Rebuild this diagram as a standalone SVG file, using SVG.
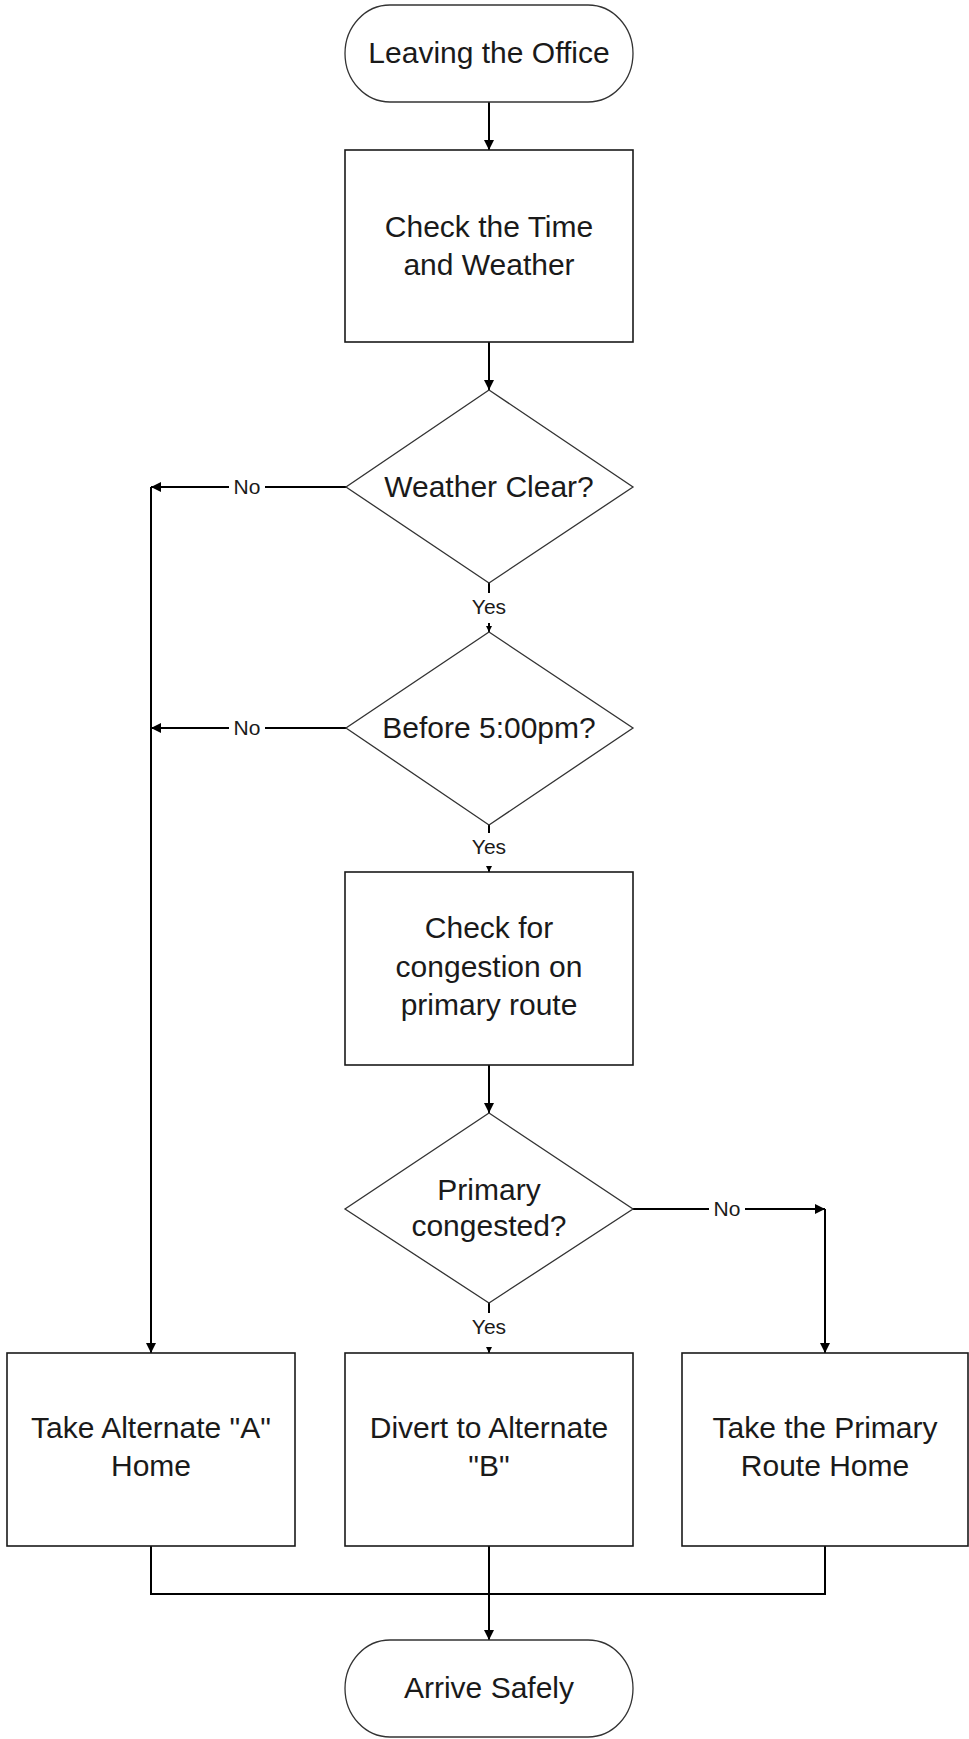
<svg xmlns="http://www.w3.org/2000/svg" width="969" height="1739" viewBox="0 0 969 1739">
<style>
.shape{fill:#fff;stroke:#1a1a1a;stroke-width:1.6}
.dia{fill:#fff;stroke:#333;stroke-width:1.3}
.t{font-family:"Liberation Sans",Arial,sans-serif;font-size:30px;fill:#1a1a1a;text-anchor:middle}
.lbl{font-family:"Liberation Sans",Arial,sans-serif;font-size:21px;fill:#1a1a1a;text-anchor:middle}
.c{fill:none;stroke:#000;stroke-width:2}
</style>
<defs>
<marker id="ah" viewBox="0 0 10 10" refX="10" refY="5" markerWidth="12" markerHeight="10" markerUnits="userSpaceOnUse" orient="auto">
<path d="M0,0 L10,5 L0,10 Z" fill="#000"/>
</marker>
<marker id="ahs" viewBox="0 0 10 10" refX="10" refY="5" markerWidth="6" markerHeight="8" markerUnits="userSpaceOnUse" orient="auto">
<path d="M0,0 L10,5 L0,10 Z" fill="#000"/>
</marker>
</defs>
<rect width="969" height="1739" fill="#fff"/>
<g id="connectors">
<path class="c" d="M489,102 V150" marker-end="url(#ah)"/>
<path class="c" d="M489,342 V390" marker-end="url(#ah)"/>
<path class="c" d="M346,487 H151" marker-end="url(#ah)"/>
<path class="c" d="M346,728 H151" marker-end="url(#ah)"/>
<path class="c" d="M151,487 V1353" marker-end="url(#ah)"/>
<path class="c" d="M489,583 V632" marker-end="url(#ahs)"/>
<path class="c" d="M489,825 V872" marker-end="url(#ahs)"/>
<path class="c" d="M489,1065 V1113" marker-end="url(#ah)"/>
<path class="c" d="M633,1209 H825" marker-end="url(#ah)"/>
<path class="c" d="M825,1209 V1353" marker-end="url(#ah)"/>
<path class="c" d="M489,1303 V1353" marker-end="url(#ahs)"/>
<path class="c" d="M151,1546 V1594 H825 V1546"/>
<path class="c" d="M489,1546 V1640" marker-end="url(#ah)"/>
<rect x="229" y="476" width="36" height="22" fill="#fff"/>
<text class="lbl" x="247" y="494">No</text>
<rect x="229" y="717" width="36" height="22" fill="#fff"/>
<text class="lbl" x="247" y="735">No</text>
<rect x="709" y="1198" width="36" height="22" fill="#fff"/>
<text class="lbl" x="727" y="1216">No</text>
<rect x="467" y="593" width="44" height="30" fill="#fff"/>
<text class="lbl" x="489" y="614">Yes</text>
<rect x="467" y="833" width="44" height="33" fill="#fff"/>
<text class="lbl" x="489" y="854">Yes</text>
<rect x="467" y="1313" width="44" height="34" fill="#fff"/>
<text class="lbl" x="489" y="1334">Yes</text>
</g>
<g id="start">
<rect class="dia" x="345" y="5" width="288" height="97" rx="45" ry="48.5"/>
<text class="t" x="489" y="63">Leaving the Office</text>
</g>
<g id="check-time">
<rect class="shape" x="345" y="150" width="288" height="192"/>
<text class="t" x="489" y="237">Check the Time</text>
<text class="t" x="489" y="275">and Weather</text>
</g>
<g id="weather-clear">
<polygon class="dia" points="489,390 633,487 489,583 346,487"/>
<text class="t" x="489" y="497">Weather Clear?</text>
</g>
<g id="before-5">
<polygon class="dia" points="489,632 633,728 489,825 346,728"/>
<text class="t" x="489" y="738">Before 5:00pm?</text>
</g>
<g id="check-congestion">
<rect class="shape" x="345" y="872" width="288" height="193"/>
<text class="t" x="489" y="938">Check for</text>
<text class="t" x="489" y="977">congestion on</text>
<text class="t" x="489" y="1015">primary route</text>
</g>
<g id="primary-congested">
<polygon class="dia" points="489,1113 633,1209 489,1303 345,1209"/>
<text class="t" x="489" y="1200">Primary</text>
<text class="t" x="489" y="1236">congested?</text>
</g>
<g id="alternate-a">
<rect class="shape" x="7" y="1353" width="288" height="193"/>
<text class="t" x="151" y="1438">Take Alternate "A"</text>
<text class="t" x="151" y="1476">Home</text>
</g>
<g id="alternate-b">
<rect class="shape" x="345" y="1353" width="288" height="193"/>
<text class="t" x="489" y="1438">Divert to Alternate</text>
<text class="t" x="489" y="1476">"B"</text>
</g>
<g id="primary-route">
<rect class="shape" x="682" y="1353" width="286" height="193"/>
<text class="t" x="825" y="1438">Take the Primary</text>
<text class="t" x="825" y="1476">Route Home</text>
</g>
<g id="arrive">
<rect class="dia" x="345" y="1640" width="288" height="97" rx="45" ry="48.5"/>
<text class="t" x="489" y="1698">Arrive Safely</text>
</g>
</svg>
